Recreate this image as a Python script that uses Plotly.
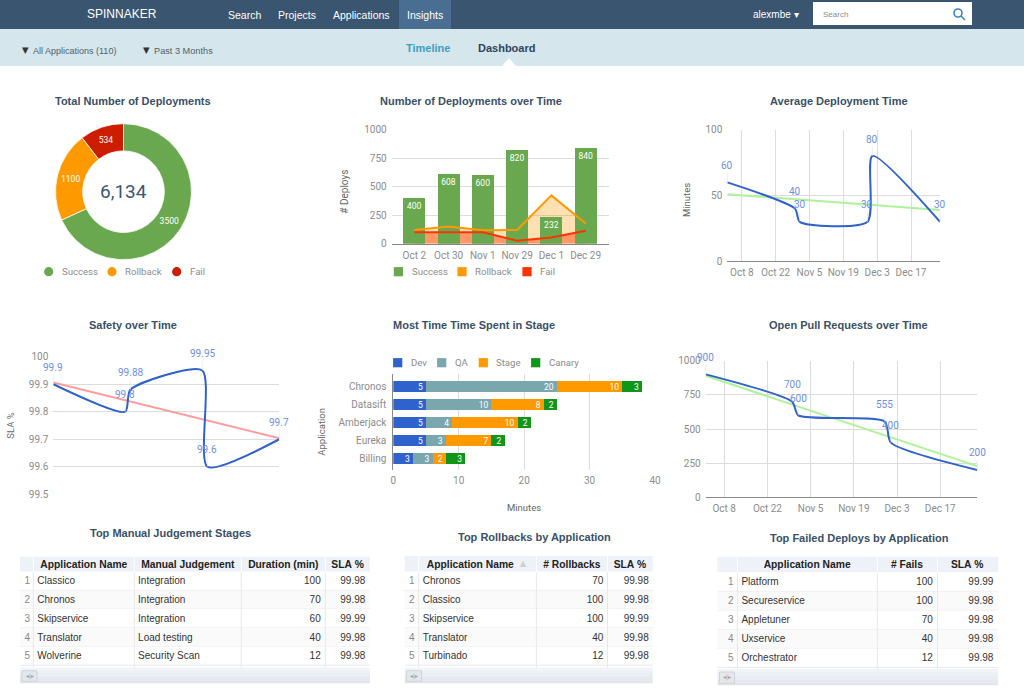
import plotly.graph_objects as go

W, H = 1024, 698
# ---------- data ----------
status_names = ["Success", "Rollback", "Fail"]
status_totals = [3500, 1100, 534]
total_label = "6,134"

deploy_cats = ["Oct 2", "Oct 30", "Nov 1", "Nov 29", "Dec 1", "Dec 29"]
deploy_success = [400, 608, 600, 820, 232, 840]
deploy_rollback = [120, 150, 118, 120, 424, 178]
deploy_fail = [100, 100, 100, 26, 55, 114]

time_dates = ["2015-10-02", "2015-10-30", "2015-11-01", "2015-11-29", "2015-12-01", "2015-12-29"]
avg_minutes = [60, 40, 30, 30, 80, 30]
avg_trend = [51, 39]
safety_sla = [99.9, 99.8, 99.88, 99.95, 99.6, 99.7]
safety_trend = [99.906, 99.704]
open_prs = [900, 700, 600, 555, 400, 200]
pr_trend = [890, 228]
trend_dates = ["2015-10-02", "2015-12-29"]

stage_apps = ["Chronos", "Datasift", "Amberjack", "Eureka", "Billing"]
stage_names = ["Dev", "QA", "Stage", "Canary"]
stage_dev = [5, 5, 5, 5, 3]
stage_qa = [20, 10, 4, 3, 3]
stage_stage = [10, 8, 10, 7, 2]
stage_canary = [3, 2, 2, 2, 3]

row_numbers = ["1", "2", "3", "4", "5"]
manual_apps = ["Classico", "Chronos", "Skipservice", "Translator", "Wolverine"]
manual_judgement = ["Integration", "Integration", "Integration", "Load testing", "Security Scan"]
manual_duration = [100, 70, 60, 40, 12]
manual_sla = ["99.98", "99.98", "99.99", "99.98", "99.98"]
rollback_apps = ["Chronos", "Classico", "Skipservice", "Translator", "Turbinado"]
rollback_counts = [70, 100, 100, 40, 12]
rollback_sla = ["99.98", "99.98", "99.99", "99.98", "99.98"]
failed_apps = ["Platform", "Secureservice", "Appletuner", "Uxservice", "Orchestrator"]
failed_counts = [100, 100, 70, 40, 12]
failed_sla = ["99.99", "99.98", "99.98", "99.98", "99.98"]

# ---------- style ----------
GREEN, ORANGE, RED, FAILBAR = "#6aa84f", "#ff9900", "#cc1d00", "#ff3300"
BLUE, LABEL, GRID, GREY = "#2f62cc", "#6d8fe2", "#dcdcdc", "#8c8c8c"
TITLE = "#3a5068"
SANS, ROB = "Liberation Sans", "Roboto"
SMOOTH = 0.65


def xd(a, b):
    return [a / W, b / W]


def yd(top, bot):
    return [1 - bot / H, 1 - top / H]


shapes, ann = [], []


def rect(x0, y0, x1, y1, color, layer="below", line=None):
    shapes.append(dict(type="rect", xref="paper", yref="paper", x0=x0 / W, x1=x1 / W, y0=1 - y0 / H, y1=1 - y1 / H,
                       fillcolor=color, line=dict(width=1 if line else 0, color=line or color), layer=layer))


def text(x, y, s, size=10, color=GREY, bold=False, family=ROB, anchor="center", angle=0):
    ann.append(dict(xref="paper", yref="paper", x=x / W, y=1 - y / H, text=f"<b>{s}</b>" if bold else s,
                    showarrow=False, xanchor=anchor, yanchor="middle", textangle=angle,
                    font=dict(size=size, color=color, family=family)))


def swatch(cx, cy, color, circle=False, r=4.6):
    shapes.append(dict(type="circle" if circle else "rect", xref="paper", yref="paper",
                       x0=(cx - r) / W, x1=(cx + r) / W, y0=1 - (cy + r) / H, y1=1 - (cy - r) / H,
                       fillcolor=color, line=dict(width=0)))


# ---------- page chrome ----------
rect(0, 0, W, 29, "#3a556f")
rect(399, 0, 451, 29, "#4a6d92")
rect(0, 29, W, 66, "#d5e6ec")
rect(813, 2, 972, 25, "#ffffff")
shapes.append(dict(type="path", xref="paper", yref="paper",
                   path=f"M {502/W} {1-66/H} L {509/W} {1-58/H} L {516/W} {1-66/H} Z", fillcolor="#ffffff", line=dict(width=0)))
shapes.append(dict(type="circle", xref="paper", yref="paper", x0=954 / W, x1=962 / W, y0=1 - 17 / H, y1=1 - 9 / H,
                   line=dict(color="#3d85c6", width=1.6)))
shapes.append(dict(type="line", xref="paper", yref="paper", x0=961 / W, x1=965 / W, y0=1 - 16 / H, y1=1 - 20 / H,
                   line=dict(color="#3d85c6", width=1.6)))
text(85, 14, "SPINNAKER", 12, "#ffffff", anchor="left", family=SANS)
for x, s in [(226, "Search"), (276, "Projects"), (331, "Applications"), (405, "Insights")]:
    text(x, 14.5, s, 10.5, "#ffffff", anchor="left", family=SANS)
text(751, 14.5, "alexmbe ▾", 10, "#ffffff", anchor="left", family=SANS)
text(821, 14.5, "Search", 8, "#8c8c8c", anchor="left", family=SANS)
text(20, 50, "▼", 8.5, "#333333", anchor="left", family="DejaVu Sans")
text(31, 51, "All Applications (110)", 9, "#54616b", anchor="left", family=SANS)
text(141, 50, "▼", 8.5, "#333333", anchor="left", family="DejaVu Sans")
text(152, 51, "Past 3 Months", 9.2, "#54616b", anchor="left", family=SANS)
text(427.5, 48, "Timeline", 11, "#3d9fc0", True, SANS)
text(506.5, 48, "Dashboard", 11, "#2f4560", True, SANS)

# ---------- panel titles ----------
for x, y, s in [(132.7, 100.5, "Total Number of Deployments"), (471, 100.5, "Number of Deployments over Time"),
                (838.7, 100.5, "Average Deployment Time"), (132.8, 325, "Safety over Time"),
                (474, 325, "Most Time Time Spent in Stage"), (848, 325, "Open Pull Requests over Time"),
                (170, 532.5, "Top Manual Judgement Stages"), (534.6, 537, "Top Rollbacks by Application"),
                (859.5, 537.5, "Top Failed Deploys by Application")]:
    text(x, y, s, 11, TITLE, True, SANS)

fig = go.Figure()

# ---------- donut ----------
fig.add_trace(go.Pie(labels=status_names, values=status_totals, sort=False, direction="clockwise", rotation=0,
                     hole=0.6, textinfo="value", textposition="inside", insidetextorientation="horizontal",
                     textfont=dict(size=8.5, color="#ffffff", family=ROB), showlegend=False,
                     marker=dict(colors=[GREEN, ORANGE, RED], line=dict(color="#ffffff", width=0.8)),
                     domain=dict(x=xd(55.5, 191.5), y=yd(123.7, 259.7))))
text(123.5, 191.5, total_label, 19, "#3b5675")
for cx, tx, n, c in zip([48.7, 112, 176.7], [59.7, 122.7, 187.7], status_names, [GREEN, ORANGE, RED]):
    swatch(cx, 271.7, c, True)
    text(tx, 271.7, n, 9.6, GREY, anchor="left")

# ---------- deployments over time ----------
fig.add_trace(go.Scatter(x=deploy_cats, y=deploy_rollback, mode="none", fill="tozeroy",
                         fillcolor="rgba(255,153,0,0.3)", xaxis="x", yaxis="y", showlegend=False))
fig.add_trace(go.Scatter(x=deploy_cats, y=deploy_fail, mode="none", fill="tozeroy",
                         fillcolor="rgba(255,51,0,0.42)", xaxis="x", yaxis="y", showlegend=False))
fig.add_trace(go.Bar(x=deploy_cats, y=deploy_success, marker=dict(color=GREEN, line=dict(width=0)), text=deploy_success,
                     textposition="inside", insidetextanchor="end", textangle=0, constraintext="none",
                     textfont=dict(size=8.5, color="#ffffff", family=ROB), xaxis="x2", yaxis="y2", showlegend=False))
fig.add_trace(go.Scatter(x=deploy_cats, y=deploy_rollback, mode="lines", line=dict(color=ORANGE, width=2),
                         xaxis="x2", yaxis="y2", showlegend=False))
fig.add_trace(go.Scatter(x=deploy_cats, y=deploy_fail, mode="lines", line=dict(color=FAILBAR, width=2),
                         xaxis="x2", yaxis="y2", showlegend=False))
text(345, 191.7, "# Deploys", 10, "#666666", angle=-90)
for sx, tx, n, c in zip([398.4, 462, 527], [409.7, 473, 537.7], status_names, [GREEN, ORANGE, FAILBAR]):
    swatch(sx, 271.7, c)
    text(tx, 271.7, n, 9.6, GREY, anchor="left")


def point_labels(xs, ys, xa, ya):
    for x, y in zip(xs, ys):
        ann.append(dict(x=x, y=y, xref=xa, yref=ya, text=str(y), showarrow=True, ax=0, ay=-17, arrowhead=0,
                        arrowwidth=0.6, arrowcolor="#e4e4e4", standoff=0, font=dict(size=10, color=LABEL, family=ROB)))


# ---------- average deployment time ----------
fig.add_trace(go.Scatter(x=trend_dates, y=avg_trend, mode="lines", line=dict(color="#aef29a", width=2),
                         xaxis="x3", yaxis="y3", showlegend=False))
fig.add_trace(go.Scatter(x=time_dates, y=avg_minutes, mode="lines", line=dict(color=BLUE, width=2, shape="spline", smoothing=SMOOTH),
                         xaxis="x3", yaxis="y3", showlegend=False))
point_labels(time_dates, avg_minutes, "x3", "y3")
text(686, 200, "Minutes", 9.5, "#666666", angle=-90)

# ---------- safety ----------
fig.add_trace(go.Scatter(x=trend_dates, y=safety_trend, mode="lines", line=dict(color="#ff9d9d", width=2),
                         xaxis="x4", yaxis="y4", showlegend=False))
fig.add_trace(go.Scatter(x=time_dates, y=safety_sla, mode="lines", line=dict(color=BLUE, width=2, shape="spline", smoothing=SMOOTH),
                         xaxis="x4", yaxis="y4", showlegend=False))
point_labels(time_dates, safety_sla, "x4", "y4")
text(11, 425.7, "SLA %", 9.5, "#666666", angle=-90)

# ---------- time in stage ----------
for name, vals, col in zip(stage_names, [stage_dev, stage_qa, stage_stage, stage_canary],
                           ["#2f62cc", "#7aa6ae", ORANGE, "#109618"]):
    fig.add_trace(go.Bar(y=stage_apps, x=vals, name=name, orientation="h", marker=dict(color=col, line=dict(width=0)),
                         text=vals, textposition="inside", insidetextanchor="end", textangle=0, constraintext="none",
                         textfont=dict(size=8.5, color="#ffffff", family=ROB), xaxis="x5", yaxis="y5", showlegend=False))
for sx, tx, n, c in zip([397.7, 441.7, 483.3, 535.7], [409, 453.3, 494.3, 547.3], stage_names,
                        ["#2f62cc", "#7aa6ae", ORANGE, "#109618"]):
    swatch(sx, 362.7, c)
    text(tx, 362.7, n, 9.6, GREY, anchor="left")
text(322, 431.7, "Application", 9.5, "#666666", angle=-90)
text(524, 507, "Minutes", 9.5, "#666666")

# ---------- open PRs ----------
fig.add_trace(go.Scatter(x=trend_dates, y=pr_trend, mode="lines", line=dict(color="#aef29a", width=2),
                         xaxis="x6", yaxis="y6", showlegend=False))
fig.add_trace(go.Scatter(x=time_dates, y=open_prs, mode="lines", line=dict(color=BLUE, width=2, shape="spline", smoothing=SMOOTH),
                         xaxis="x6", yaxis="y6", showlegend=False))
point_labels(time_dates, open_prs, "x6", "y6")


# ---------- tables ----------
NUDGE = 4
CLEAR = "rgba(0,0,0,0)"


def table(edges, top, footer_top, footer_bot, headers, columns, aligns, head_h, row_h):
    """edges: visible column boundaries in px. Plotly pads cells by 8px, the reference by ~4px, so the
    real table columns are nudged to land the text, and the visible fills and rules are drawn underneath."""
    x0, x1 = edges[0], edges[-1]
    rect(x0, top, x1, top + head_h, "#eef2f8")
    for r in range(5):
        t = top + head_h + r * row_h
        rect(x0, t, x1, t + row_h, "#ffffff" if r % 2 == 0 else "#fafafa")
        shapes.append(dict(type="line", xref="paper", yref="paper", x0=x0 / W, x1=x1 / W, y0=1 - (t + row_h) / H,
                           y1=1 - (t + row_h) / H, line=dict(color="#e8e8e8", width=1), layer="below"))
    for e in edges[1:-1]:
        shapes.append(dict(type="line", xref="paper", yref="paper", x0=e / W, x1=e / W, y0=1 - (top + head_h) / H,
                           y1=1 - footer_top / H, line=dict(color="#e8e8e8", width=1), layer="below"))
        shapes.append(dict(type="line", xref="paper", yref="paper", x0=e / W, x1=e / W, y0=1 - top / H,
                           y1=1 - (top + head_h) / H, line=dict(color="#ffffff", width=1), layer="below"))
    n = 6
    for i in range(n):
        t = footer_top + (footer_bot - footer_top) * i / n
        bt = footer_top + (footer_bot - footer_top) * (i + 1) / n
        v = 246 - i * 3
        rect(x0, t, x1, bt, f"rgb({v-6},{v-3},{v+3})")
    rect(x0 + 2, footer_top + 3, x0 + 17, footer_bot - 2, "#e4e7ec", line="#d0d4da")
    text(x0 + 9.5, (footer_top + footer_bot) / 2, "◂|▸", 6, "#a0a0a0", family="DejaVu Sans")

    def blank(count):
        return dict(values=[""] * count, height=head_h, fill_color=CLEAR, line=dict(color=CLEAR, width=0))

    # header row on the visible column boundaries
    fig.add_trace(go.Table(
        domain=dict(x=xd(x0, x1), y=yd(top - 4, top + head_h + 6)),
        columnwidth=[edges[i + 1] - edges[i] for i in range(len(edges) - 1)],
        header=dict(values=[h.replace(" ", "\u00a0") for h in headers], height=head_h, align="center",
                    fill_color=CLEAR, line=dict(color=CLEAR, width=0),
                    font=dict(size=10.3, color="#222222", family=SANS, weight=700)),
        cells=dict(values=[[] for _ in headers], height=row_h, fill_color=CLEAR, line=dict(color=CLEAR, width=0))))
    # row numbers
    fig.add_trace(go.Table(
        domain=dict(x=xd(x0 - 4, edges[1] + 4.7), y=yd(top - 2.8, footer_bot + 6)),
        header=blank(1),
        cells=dict(values=[row_numbers], height=row_h, align="right", fill_color=CLEAR, line=dict(color=CLEAR, width=0),
                   font=dict(size=10, color="#888888", family=SANS))))
    # body
    b = [edges[1] - NUDGE]
    for i, a in enumerate(aligns):
        nxt = edges[i + 2]
        b.append(nxt + NUDGE if a == "right" else nxt - NUDGE)
    fig.add_trace(go.Table(
        domain=dict(x=xd(b[0], b[-1]), y=yd(top - 2.8, footer_bot + 6)),
        columnwidth=[b[i + 1] - b[i] for i in range(len(b) - 1)],
        header=blank(len(columns)),
        cells=dict(values=columns, height=row_h, align=aligns, fill_color=CLEAR, line=dict(color=CLEAR, width=0),
                   font=dict(size=10, color="#333333", family=SANS))))


table([20, 33.3, 134.3, 241.3, 325.3, 370], 556.7, 667.7, 683.3,
      ["", "Application Name", "Manual Judgement", "Duration (min)", "SLA %"],
      [manual_apps, manual_judgement, manual_duration, manual_sla],
      ["left", "left", "right", "right"], 15, 18.7)
table([404.6, 418.7, 536.4, 607.5, 652.8], 556, 667.7, 683.3,
      ["", "Application Name" + "\u00a0" * 5, "# Rollbacks", "SLA %"],
      [rollback_apps, rollback_counts, rollback_sla],
      ["left", "right", "right"], 15.7, 18.7)
text(523.8, 563.7, "▲", 8, "#cfcfcf", family="DejaVu Sans")
table([717.5, 737.4, 877.3, 937.5, 998.2], 556.7, 669, 685.3,
      ["", "Application Name", "# Fails", "SLA %"],
      [failed_apps, failed_counts, failed_sla],
      ["left", "right", "right"], 15.7, 19)

# ---------- axes ----------
tick = dict(size=10, color=GREY, family=ROB)
hidden = dict(showgrid=False, zeroline=False, showticklabels=False, ticks="", automargin=False)
DAY14 = 14 * 86400000
date_x = dict(type="date", range=["2015-10-02", "2015-12-29"], tick0="2015-10-08", dtick=DAY14, tickformat="%b %-d",
              showgrid=True, gridcolor=GRID, gridwidth=1.4, zeroline=False, tickfont=tick, showline=True, linecolor="#888888",
              ticks="", ticklabelstandoff=2, automargin=False)


def yaxis(dom, rng, vals, anchor, **kw):
    return dict(domain=dom, range=rng, tickvals=vals, showgrid=True, gridcolor=GRID, gridwidth=1.2, zeroline=False,
                tickfont=tick, anchor=anchor, ticks="", ticklabelstandoff=4, automargin=False, **kw)


fig.update_layout(
    width=W, height=H, margin=dict(l=0, r=0, t=0, b=0), autosize=False, paper_bgcolor="#ffffff", plot_bgcolor="rgba(0,0,0,0)",
    showlegend=False, barmode="stack", bargap=0.36, shapes=shapes, annotations=ann,
    xaxis=dict(domain=xd(391.7, 609.3), type="category", range=[-0.66, 5.69], categoryorder="array", categoryarray=deploy_cats,
               tickfont=tick, showgrid=False, zeroline=False, showline=True, linecolor="#888888", anchor="y",
               ticklabelstandoff=2, automargin=False),
    yaxis=yaxis(yd(129.7, 243.7), [0, 1000], [0, 250, 500, 750, 1000], "x"),
    xaxis2=dict(type="category", range=[-0.66, 5.69], categoryorder="array", categoryarray=deploy_cats, overlaying="x",
                anchor="y2", **hidden),
    yaxis2=dict(range=[0, 1000], overlaying="y", anchor="x2", **hidden),
    xaxis3=dict(domain=xd(727.3, 940), anchor="y3", **date_x),
    yaxis3=yaxis(yd(129.7, 261.3), [0, 100], [0, 50, 100], "x3"),
    xaxis4=dict(domain=xd(53.3, 279.3), type="date", range=["2015-10-02", "2015-12-29"], anchor="y4", **hidden),
    yaxis4=yaxis(yd(356.7, 494.3), [99.5, 100], [99.5, 99.6, 99.7, 99.8, 99.9, 100], "x4",
                 ticktext=["99.5", "99.6", "99.7", "99.8", "99.9", "100"]),
    xaxis5=dict(domain=xd(393.3, 655), range=[0, 40], tickvals=[0, 10, 20, 30, 40], showgrid=True, gridcolor=GRID, gridwidth=1.2,
                zeroline=False, tickfont=tick, anchor="y5", ticklabelstandoff=3, automargin=False),
    yaxis5=dict(domain=yd(374.3, 470.3), type="category", range=[4.648, -0.685], categoryorder="array", categoryarray=stage_apps,
                showgrid=False, zeroline=False, showline=True, linecolor="#888888", tickfont=tick, anchor="x5",
                ticklabelstandoff=4, automargin=False),
    xaxis6=dict(domain=xd(705.7, 977.3), anchor="y6", **date_x),
    yaxis6=yaxis(yd(360.7, 497.3), [0, 1000], [0, 250, 500, 750, 1000], "x6"),
)
fig.write_html("out.html", config=dict(displayModeBar=False),
               post_script="document.body.style.margin='0';document.body.style.overflow='hidden';")
